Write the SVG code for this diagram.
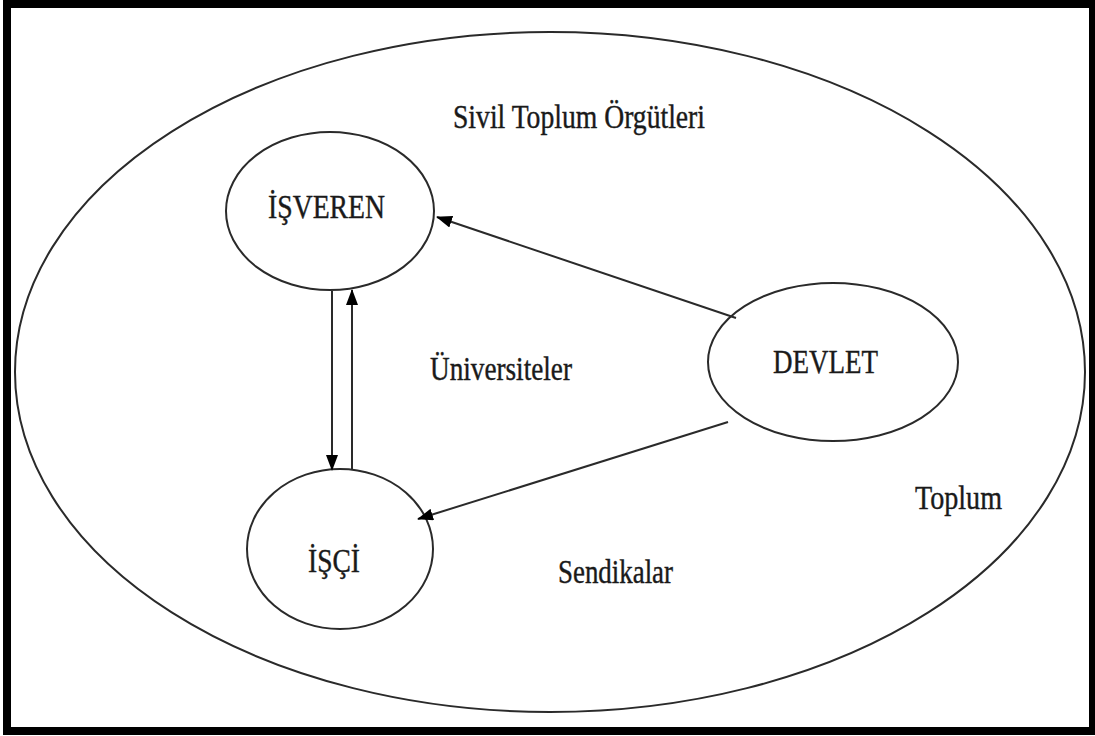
<svg xmlns="http://www.w3.org/2000/svg" width="1095" height="736" viewBox="0 0 1095 736">
  <style>
    .shape { fill: none; stroke: #2a2a2a; stroke-width: 2; }
    .link { fill: none; stroke: #2a2a2a; stroke-width: 2; }
    .label { font-family: "Liberation Serif", "Times New Roman", serif; font-size: 33px; fill: #1a1a1a; stroke: #1a1a1a; stroke-width: 0.4; }
  </style>
  <defs>
    <marker id="head" viewBox="0 0 16 12" refX="15" refY="6" markerWidth="16" markerHeight="12" markerUnits="userSpaceOnUse" orient="auto">
      <path d="M0,0 L16,6 L0,12 Z" fill="#000"/>
    </marker>
  </defs>

  <rect x="0" y="0" width="1095" height="736" fill="#fff"/>
  <!-- outer frame -->
  <rect x="7" y="4" width="1086" height="727" fill="none" stroke="#000" stroke-width="8"/>

  <!-- society ellipse with its free-standing labels -->
  <g id="toplum">
    <ellipse class="shape" cx="550" cy="372" rx="535" ry="340"/>
    <text class="label" x="915" y="509" textLength="87" lengthAdjust="spacingAndGlyphs">Toplum</text>
    <text class="label" x="453" y="128" textLength="252" lengthAdjust="spacingAndGlyphs">Sivil Toplum Örgütleri</text>
    <text class="label" x="430" y="380" textLength="142" lengthAdjust="spacingAndGlyphs">Üniversiteler</text>
    <text class="label" x="558" y="583" textLength="115" lengthAdjust="spacingAndGlyphs">Sendikalar</text>
  </g>

  <g id="isveren">
    <ellipse class="shape" cx="330" cy="211" rx="104" ry="79"/>
    <text class="label" x="268" y="218" textLength="117" lengthAdjust="spacingAndGlyphs">İŞVEREN</text>
  </g>

  <g id="isci">
    <ellipse class="shape" cx="340" cy="549" rx="93" ry="80"/>
    <text class="label" x="308" y="572" textLength="52" lengthAdjust="spacingAndGlyphs">İŞÇİ</text>
  </g>

  <g id="devlet">
    <ellipse class="shape" cx="833" cy="362" rx="125" ry="79"/>
    <text class="label" x="773" y="373" textLength="105" lengthAdjust="spacingAndGlyphs">DEVLET</text>
  </g>

  <g id="connectors">
    <line class="link" x1="736" y1="318" x2="437" y2="217" marker-end="url(#head)"/>
    <line class="link" x1="728" y1="422" x2="418" y2="519" marker-end="url(#head)"/>
    <line class="link" x1="332" y1="291" x2="332" y2="470" marker-end="url(#head)"/>
    <line class="link" x1="352" y1="470" x2="352" y2="290" marker-end="url(#head)"/>
  </g>
</svg>
